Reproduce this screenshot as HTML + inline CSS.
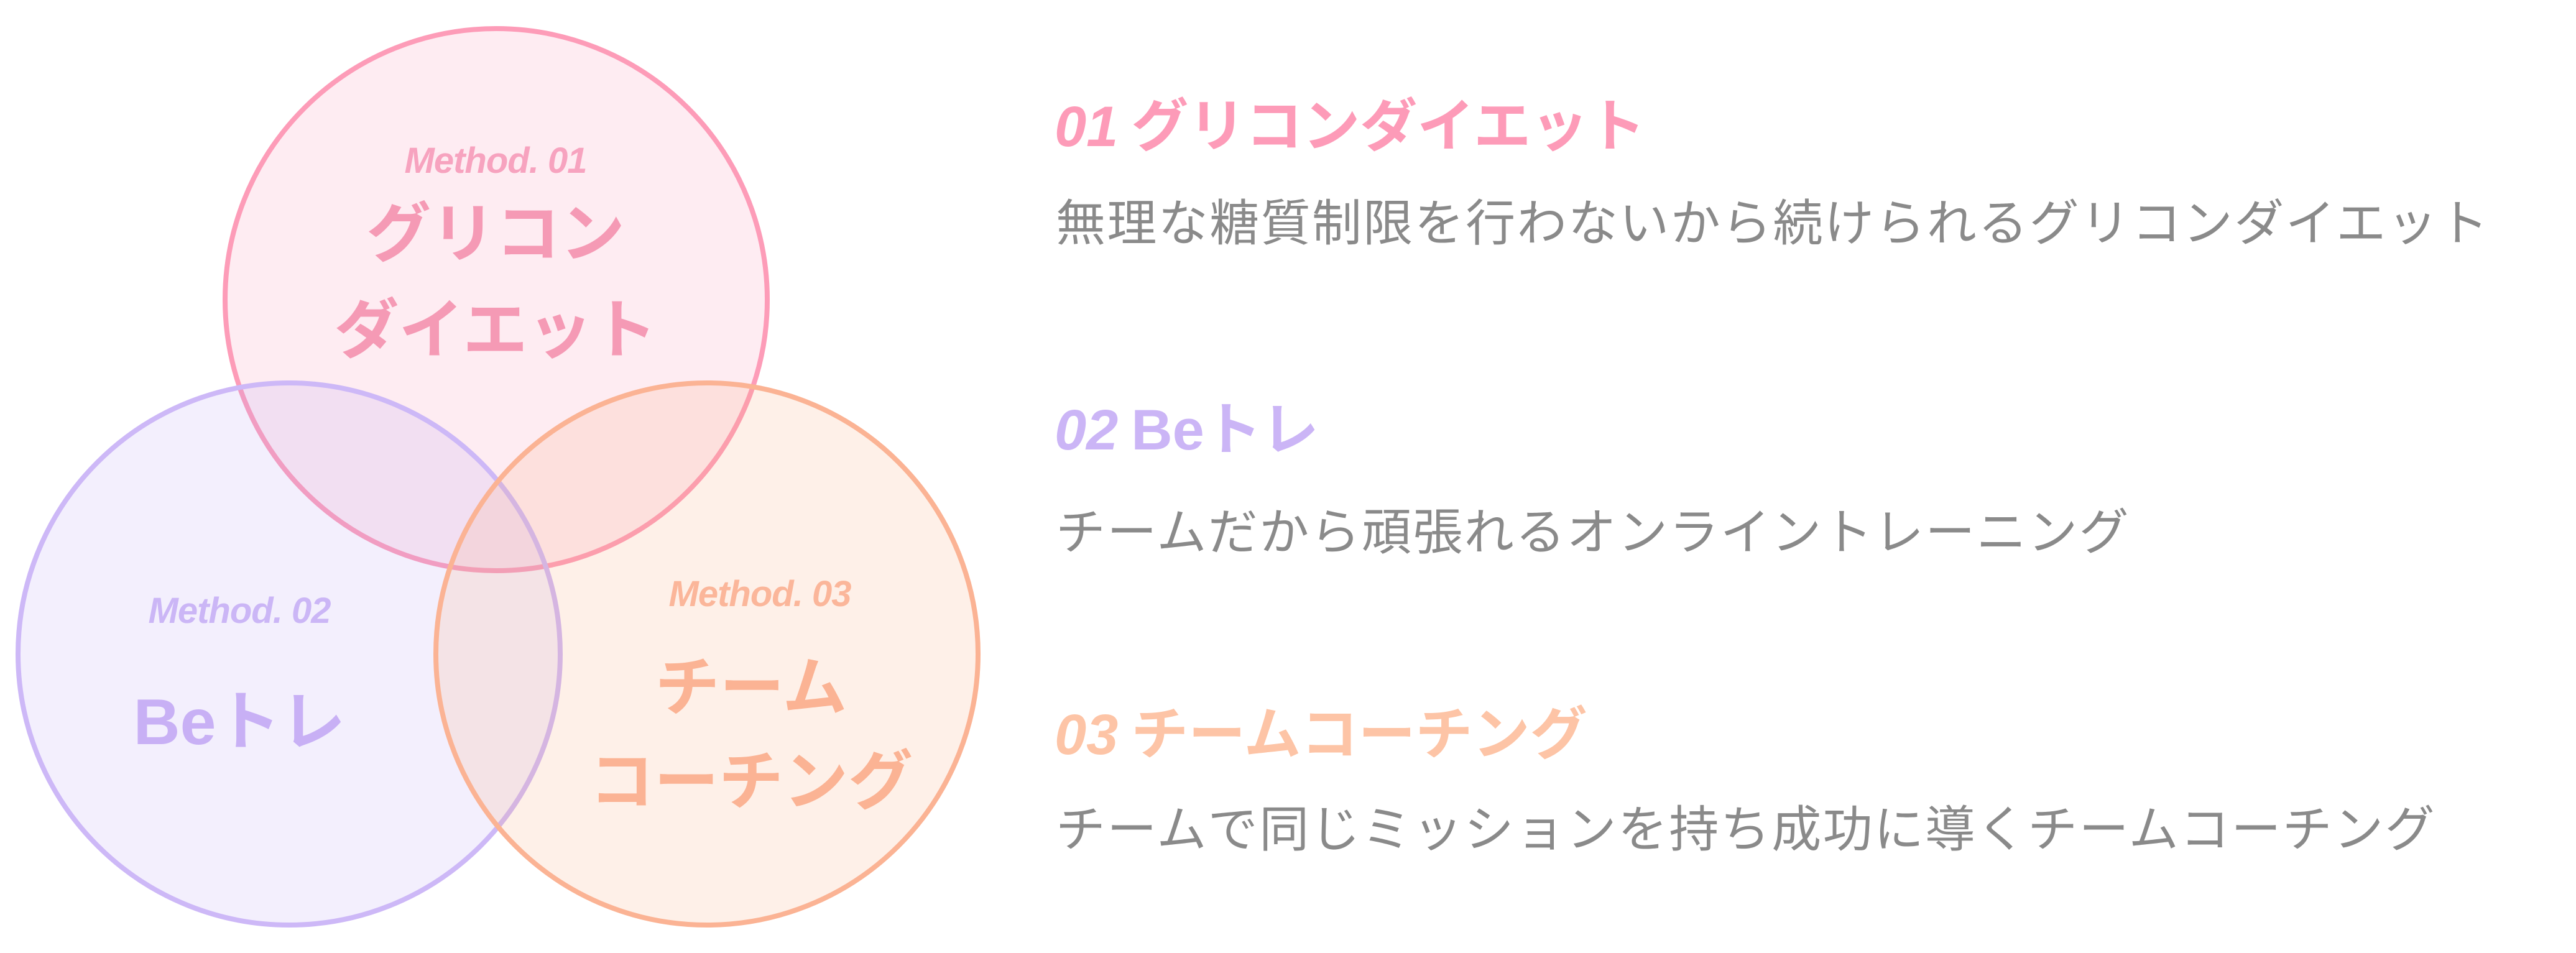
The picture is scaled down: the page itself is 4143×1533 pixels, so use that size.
<!DOCTYPE html>
<html><head><meta charset="utf-8"><style>
html,body{margin:0;padding:0;background:#fff;}
body{width:4143px;height:1533px;position:relative;overflow:hidden;font-family:"Liberation Sans","Noto Sans CJK JP",sans-serif;}
.t{position:absolute;white-space:nowrap;}
.m{font-family:"Liberation Sans",sans-serif;font-style:italic;font-weight:bold;font-size:58px;line-height:58px;transform:translateX(-50%);letter-spacing:-1px;}
.j{font-family:"Noto Sans CJK JP",sans-serif;font-weight:bold;font-size:104px;line-height:104px;transform:translateX(-50%);}
.h{font-family:"Noto Sans CJK JP",sans-serif;font-weight:bold;font-size:92px;line-height:92px;left:1696px;}
.h i{font-family:"Liberation Sans",sans-serif;font-weight:bold;}
.d{font-family:"Noto Sans CJK JP",sans-serif;font-size:80px;line-height:80px;left:1698px;color:#8a8a8a;letter-spacing:2.4px;}
</style></head><body>
<svg width="4143" height="1533" style="position:absolute;left:0;top:0">
<circle cx="798" cy="482" r="436" fill="rgba(251,160,188,0.2)" stroke="#fd9cb8" stroke-width="8"/>
<circle cx="465" cy="1052" r="436" fill="rgba(190,165,245,0.18)" stroke="#cdb8f7" stroke-width="8"/>
<circle cx="1137" cy="1052" r="436" fill="rgba(252,170,130,0.18)" stroke="#fbb394" stroke-width="8"/>
</svg>
<div class="t m" style="left:797px;top:230px;color:#f7a3bf">Method. 01</div>
<div class="t j" style="left:797px;top:315px;color:#f59ab5">グリコン</div>
<div class="t j" style="left:797px;top:470px;color:#f59ab5">ダイエット</div>
<div class="t m" style="left:385px;top:954px;color:#cbb6f6">Method. 02</div>
<div class="t j" style="left:385px;top:1100px;color:#c8b0f5"><span style="font-family:'Liberation Sans',sans-serif">Be</span>トレ</div>
<div class="t m" style="left:1222px;top:927px;color:#fbb69a">Method. 03</div>
<div class="t j" style="left:1208px;top:1045px;color:#fbb394">チーム</div>
<div class="t j" style="left:1208px;top:1196px;color:#fbb394">コーチング</div>
<div class="t h" style="top:150px;color:#fd9bb8"><i>01</i> グリコンダイエット</div>
<div class="t d" style="top:313px">無理な糖質制限を行わないから続けられるグリコンダイエット</div>
<div class="t h" style="top:638px;color:#cbb5f6"><i>02</i> <span style="font-family:'Liberation Sans',sans-serif">Be</span>トレ</div>
<div class="t d" style="top:810px">チームだから頑張れるオンライントレーニング</div>
<div class="t h" style="top:1128px;color:#fdc4a6"><i>03</i> チームコーチング</div>
<div class="t d" style="top:1288px">チームで同じミッションを持ち成功に導くチームコーチング</div>
</body></html>
